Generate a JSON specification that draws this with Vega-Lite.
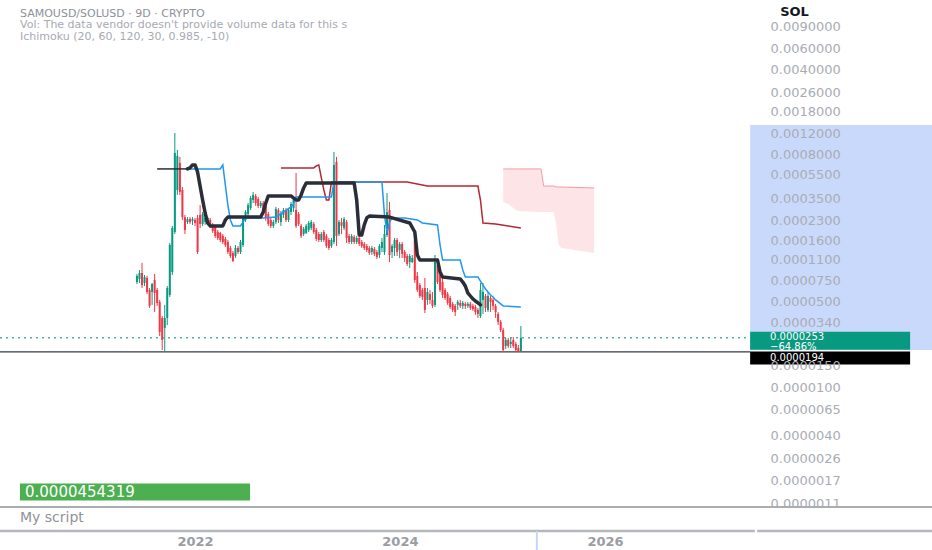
{
  "$schema": "https://vega.github.io/schema/vega-lite/v6.json",
  "width": 932,
  "height": 550,
  "autosize": {"type": "none"},
  "padding": 0,
  "background": "#ffffff",
  "config": {"view": {"stroke": null}, "font": "DejaVu Sans", "axis": {"grid": false, "domain": false, "ticks": false, "tickSize": 0}},
  "title": {
    "text": "SAMOUSD/SOLUSD · 9D · CRYPTO",
    "subtitle": ["Vol: The data vendor doesn't provide volume data for this s", "Ichimoku (20, 60, 120, 30, 0.985, -10)"],
    "anchor": "start", "frame": "group", "orient": "top", "offset": -42, "dx": 20,
    "font": "DejaVu Sans", "fontSize": 11, "fontWeight": "normal", "color": "#8e9199",
    "subtitleFont": "DejaVu Sans", "subtitleFontSize": 11, "subtitleColor": "#a7aab2",
    "subtitlePadding": 0, "lineHeight": 12, "subtitleLineHeight": 12
  },
  "datasets": {
    "candles": [
      {"d":"2021-06-08","o":7.25e-5,"h":8.44e-5,"l":6.98e-5,"c":8.13e-5},
      {"d":"2021-06-17","o":7.68e-5,"h":9.10e-5,"l":7.12e-5,"c":8.60e-5},
      {"d":"2021-06-26","o":8.60e-5,"h":1.039e-4,"l":6.48e-5,"c":6.85e-5},
      {"d":"2021-07-05","o":7.12e-5,"h":8.28e-5,"l":6.73e-5,"c":7.98e-5},
      {"d":"2021-07-14","o":7.83e-5,"h":8.13e-5,"l":5.79e-5,"c":6.01e-5},
      {"d":"2021-07-23","o":6.24e-5,"h":6.48e-5,"l":4.45e-5,"c":4.62e-5},
      {"d":"2021-08-01","o":6.01e-5,"h":7.12e-5,"l":4.71e-5,"c":6.98e-5},
      {"d":"2021-08-10","o":7.53e-5,"h":8.44e-5,"l":4.12e-5,"c":5.90e-5},
      {"d":"2021-08-19","o":6.24e-5,"h":6.48e-5,"l":4.62e-5,"c":4.89e-5},
      {"d":"2021-08-28","o":4.98e-5,"h":5.17e-5,"l":2.62e-5,"c":2.82e-5},
      {"d":"2021-09-06","o":3.68e-5,"h":3.82e-5,"l":2.01e-5,"c":2.43e-5},
      {"d":"2021-09-15","o":3.05e-5,"h":4.71e-5,"l":1.94e-5,"c":3.68e-5},
      {"d":"2021-09-24","o":3.68e-5,"h":6.73e-5,"l":3.22e-5,"c":6.48e-5},
      {"d":"2021-10-03","o":5.68e-5,"h":1.515e-4,"l":5.47e-5,"c":1.459e-4},
      {"d":"2021-10-12","o":8.76e-5,"h":2.09e-4,"l":8.28e-5,"c":2.01e-4},
      {"d":"2021-10-21","o":1.864e-4,"h":1.208e-3,"l":1.796e-4,"c":8.29e-4},
      {"d":"2021-10-30","o":4.12e-4,"h":8.77e-4,"l":3.75e-4,"c":7.83e-4},
      {"d":"2021-11-08","o":6.86e-4,"h":7.69e-4,"l":3.75e-4,"c":3.97e-4},
      {"d":"2021-11-17","o":4.12e-4,"h":4.36e-4,"l":2.34e-4,"c":2.47e-4},
      {"d":"2021-11-26","o":2.47e-4,"h":2.57e-4,"l":1.796e-4,"c":1.936e-4},
      {"d":"2021-12-05","o":2.25e-4,"h":2.47e-4,"l":2.17e-4,"c":2.38e-4},
      {"d":"2021-12-14","o":2.38e-4,"h":2.47e-4,"l":2.17e-4,"c":2.25e-4},
      {"d":"2021-12-23","o":2.30e-4,"h":2.47e-4,"l":2.13e-4,"c":2.38e-4},
      {"d":"2022-01-01","o":2.34e-4,"h":2.43e-4,"l":2.09e-4,"c":2.21e-4},
      {"d":"2022-01-10","o":2.43e-4,"h":2.57e-4,"l":1.231e-4,"c":1.278e-4},
      {"d":"2022-01-19","o":2.57e-4,"h":3.10e-4,"l":2.01e-4,"c":2.17e-4},
      {"d":"2022-01-28","o":2.17e-4,"h":2.72e-4,"l":2.09e-4,"c":2.62e-4},
      {"d":"2022-02-06","o":2.25e-4,"h":2.57e-4,"l":2.13e-4,"c":2.43e-4},
      {"d":"2022-02-15","o":2.43e-4,"h":2.47e-4,"l":2.17e-4,"c":2.25e-4},
      {"d":"2022-02-24","o":2.34e-4,"h":2.43e-4,"l":2.01e-4,"c":2.13e-4},
      {"d":"2022-03-05","o":2.13e-4,"h":2.21e-4,"l":1.830e-4,"c":1.900e-4},
      {"d":"2022-03-14","o":2.05e-4,"h":2.13e-4,"l":1.665e-4,"c":1.729e-4},
      {"d":"2022-03-23","o":1.864e-4,"h":1.936e-4,"l":1.603e-4,"c":1.665e-4},
      {"d":"2022-04-01","o":1.830e-4,"h":1.864e-4,"l":1.544e-4,"c":1.603e-4},
      {"d":"2022-04-10","o":1.729e-4,"h":1.796e-4,"l":1.487e-4,"c":1.544e-4},
      {"d":"2022-04-19","o":1.634e-4,"h":1.697e-4,"l":1.405e-4,"c":1.459e-4},
      {"d":"2022-04-28","o":1.544e-4,"h":1.603e-4,"l":1.231e-4,"c":1.278e-4},
      {"d":"2022-05-07","o":1.379e-4,"h":1.432e-4,"l":1.142e-4,"c":1.185e-4},
      {"d":"2022-05-16","o":1.254e-4,"h":1.302e-4,"l":1.058e-4,"c":1.079e-4},
      {"d":"2022-05-25","o":1.185e-4,"h":1.459e-4,"l":1.142e-4,"c":1.379e-4},
      {"d":"2022-06-03","o":1.379e-4,"h":1.432e-4,"l":1.231e-4,"c":1.278e-4},
      {"d":"2022-06-12","o":1.278e-4,"h":1.603e-4,"l":1.231e-4,"c":1.544e-4},
      {"d":"2022-06-21","o":1.459e-4,"h":2.52e-4,"l":1.405e-4,"c":2.43e-4},
      {"d":"2022-06-30","o":2.34e-4,"h":2.82e-4,"l":2.25e-4,"c":2.72e-4},
      {"d":"2022-07-09","o":2.62e-4,"h":3.22e-4,"l":2.52e-4,"c":3.10e-4},
      {"d":"2022-07-18","o":2.93e-4,"h":3.68e-4,"l":2.82e-4,"c":3.54e-4},
      {"d":"2022-07-27","o":3.41e-4,"h":3.97e-4,"l":3.22e-4,"c":3.75e-4},
      {"d":"2022-08-05","o":3.68e-4,"h":3.82e-4,"l":3.05e-4,"c":3.22e-4},
      {"d":"2022-08-14","o":3.48e-4,"h":3.61e-4,"l":2.93e-4,"c":3.05e-4},
      {"d":"2022-08-23","o":3.05e-4,"h":3.35e-4,"l":2.93e-4,"c":3.22e-4},
      {"d":"2022-09-01","o":3.22e-4,"h":3.35e-4,"l":2.67e-4,"c":2.77e-4},
      {"d":"2022-09-10","o":3.05e-4,"h":3.16e-4,"l":2.30e-4,"c":2.43e-4},
      {"d":"2022-09-19","o":2.62e-4,"h":2.72e-4,"l":2.09e-4,"c":2.17e-4},
      {"d":"2022-09-28","o":2.34e-4,"h":2.43e-4,"l":2.01e-4,"c":2.09e-4},
      {"d":"2022-10-07","o":2.09e-4,"h":2.34e-4,"l":2.01e-4,"c":2.25e-4},
      {"d":"2022-10-16","o":2.25e-4,"h":2.99e-4,"l":2.17e-4,"c":2.88e-4},
      {"d":"2022-10-25","o":2.82e-4,"h":2.93e-4,"l":2.21e-4,"c":2.34e-4},
      {"d":"2022-11-03","o":2.25e-4,"h":2.77e-4,"l":2.09e-4,"c":2.67e-4},
      {"d":"2022-11-12","o":2.57e-4,"h":2.93e-4,"l":2.43e-4,"c":2.82e-4},
      {"d":"2022-11-21","o":2.82e-4,"h":2.93e-4,"l":2.25e-4,"c":2.34e-4},
      {"d":"2022-11-30","o":2.34e-4,"h":2.93e-4,"l":2.25e-4,"c":2.82e-4},
      {"d":"2022-12-09","o":2.72e-4,"h":3.28e-4,"l":2.57e-4,"c":3.16e-4},
      {"d":"2022-12-18","o":2.93e-4,"h":3.61e-4,"l":2.72e-4,"c":3.48e-4},
      {"d":"2022-12-27","o":2.82e-4,"h":5.68e-4,"l":2.01e-4,"c":2.09e-4},
      {"d":"2023-01-05","o":2.62e-4,"h":2.72e-4,"l":2.09e-4,"c":2.17e-4},
      {"d":"2023-01-14","o":2.09e-4,"h":2.17e-4,"l":1.665e-4,"c":1.729e-4},
      {"d":"2023-01-23","o":1.796e-4,"h":2.05e-4,"l":1.729e-4,"c":1.98e-4},
      {"d":"2023-02-01","o":1.830e-4,"h":2.17e-4,"l":1.796e-4,"c":2.09e-4},
      {"d":"2023-02-10","o":1.936e-4,"h":2.30e-4,"l":1.864e-4,"c":2.21e-4},
      {"d":"2023-02-19","o":2.01e-4,"h":2.34e-4,"l":1.936e-4,"c":2.25e-4},
      {"d":"2023-02-28","o":2.17e-4,"h":2.25e-4,"l":1.796e-4,"c":1.864e-4},
      {"d":"2023-03-09","o":1.936e-4,"h":2.01e-4,"l":1.573e-4,"c":1.634e-4},
      {"d":"2023-03-18","o":1.796e-4,"h":1.864e-4,"l":1.544e-4,"c":1.603e-4},
      {"d":"2023-03-27","o":1.603e-4,"h":1.864e-4,"l":1.544e-4,"c":1.796e-4},
      {"d":"2023-04-05","o":1.864e-4,"h":1.936e-4,"l":1.544e-4,"c":1.603e-4},
      {"d":"2023-04-14","o":1.729e-4,"h":1.796e-4,"l":1.379e-4,"c":1.432e-4},
      {"d":"2023-04-23","o":1.603e-4,"h":1.665e-4,"l":1.327e-4,"c":1.379e-4},
      {"d":"2023-05-02","o":1.432e-4,"h":1.665e-4,"l":1.379e-4,"c":1.603e-4},
      {"d":"2023-05-11","o":1.544e-4,"h":8.45e-4,"l":1.487e-4,"c":6.61e-4},
      {"d":"2023-05-20","o":6.99e-4,"h":7.69e-4,"l":1.432e-4,"c":1.729e-4},
      {"d":"2023-05-29","o":1.796e-4,"h":2.34e-4,"l":1.729e-4,"c":2.25e-4},
      {"d":"2023-06-07","o":2.25e-4,"h":2.43e-4,"l":1.796e-4,"c":2.09e-4},
      {"d":"2023-06-16","o":2.01e-4,"h":2.47e-4,"l":1.936e-4,"c":2.38e-4},
      {"d":"2023-06-25","o":2.25e-4,"h":2.34e-4,"l":1.515e-4,"c":1.665e-4},
      {"d":"2023-07-04","o":1.729e-4,"h":1.796e-4,"l":1.487e-4,"c":1.544e-4},
      {"d":"2023-07-13","o":1.544e-4,"h":1.796e-4,"l":1.487e-4,"c":1.729e-4},
      {"d":"2023-07-22","o":1.697e-4,"h":1.762e-4,"l":1.487e-4,"c":1.544e-4},
      {"d":"2023-07-31","o":1.544e-4,"h":1.729e-4,"l":1.487e-4,"c":1.665e-4},
      {"d":"2023-08-09","o":1.665e-4,"h":1.729e-4,"l":1.432e-4,"c":1.487e-4},
      {"d":"2023-08-18","o":1.544e-4,"h":1.603e-4,"l":1.379e-4,"c":1.432e-4},
      {"d":"2023-08-27","o":1.487e-4,"h":1.544e-4,"l":1.327e-4,"c":1.379e-4},
      {"d":"2023-09-05","o":1.432e-4,"h":1.487e-4,"l":1.278e-4,"c":1.327e-4},
      {"d":"2023-09-14","o":1.379e-4,"h":1.432e-4,"l":1.208e-4,"c":1.254e-4},
      {"d":"2023-09-23","o":1.278e-4,"h":1.432e-4,"l":1.208e-4,"c":1.379e-4},
      {"d":"2023-10-02","o":1.353e-4,"h":1.405e-4,"l":1.185e-4,"c":1.231e-4},
      {"d":"2023-10-11","o":1.278e-4,"h":1.327e-4,"l":1.120e-4,"c":1.163e-4},
      {"d":"2023-10-20","o":1.208e-4,"h":1.487e-4,"l":1.142e-4,"c":1.432e-4},
      {"d":"2023-10-29","o":1.379e-4,"h":1.665e-4,"l":1.278e-4,"c":1.544e-4},
      {"d":"2023-11-07","o":1.278e-4,"h":2.13e-4,"l":1.208e-4,"c":1.796e-4},
      {"d":"2023-11-16","o":1.762e-4,"h":3.89e-4,"l":1.697e-4,"c":2.72e-4},
      {"d":"2023-11-25","o":2.82e-4,"h":3.28e-4,"l":1.058e-4,"c":1.208e-4},
      {"d":"2023-12-04","o":1.278e-4,"h":1.487e-4,"l":1.142e-4,"c":1.432e-4},
      {"d":"2023-12-13","o":1.379e-4,"h":1.665e-4,"l":1.185e-4,"c":1.603e-4},
      {"d":"2023-12-22","o":1.603e-4,"h":1.665e-4,"l":1.185e-4,"c":1.278e-4},
      {"d":"2023-12-31","o":1.327e-4,"h":1.544e-4,"l":1.142e-4,"c":1.487e-4},
      {"d":"2024-01-09","o":1.487e-4,"h":1.544e-4,"l":1.142e-4,"c":1.231e-4},
      {"d":"2024-01-18","o":1.278e-4,"h":1.327e-4,"l":1.058e-4,"c":1.142e-4},
      {"d":"2024-01-27","o":1.185e-4,"h":1.231e-4,"l":9.82e-5,"c":1.019e-4},
      {"d":"2024-02-05","o":1.058e-4,"h":1.231e-4,"l":9.45e-5,"c":1.185e-4},
      {"d":"2024-02-14","o":1.058e-4,"h":1.208e-4,"l":1.039e-4,"c":1.142e-4},
      {"d":"2024-02-23","o":1.603e-4,"h":1.762e-4,"l":7.12e-5,"c":7.53e-5},
      {"d":"2024-03-03","o":8.13e-5,"h":8.76e-5,"l":6.01e-5,"c":6.24e-5},
      {"d":"2024-03-12","o":6.85e-5,"h":7.12e-5,"l":5.37e-5,"c":5.57e-5},
      {"d":"2024-03-21","o":6.24e-5,"h":6.48e-5,"l":5.17e-5,"c":5.47e-5},
      {"d":"2024-03-30","o":6.48e-5,"h":7.83e-5,"l":4.04e-5,"c":4.28e-5},
      {"d":"2024-04-08","o":5.17e-5,"h":6.48e-5,"l":4.71e-5,"c":6.01e-5},
      {"d":"2024-04-17","o":5.79e-5,"h":6.24e-5,"l":4.80e-5,"c":5.17e-5},
      {"d":"2024-04-26","o":5.17e-5,"h":6.01e-5,"l":4.45e-5,"c":4.62e-5},
      {"d":"2024-05-05","o":4.71e-5,"h":1.208e-4,"l":4.53e-5,"c":1.058e-4},
      {"d":"2024-05-14","o":1.000e-4,"h":1.039e-4,"l":6.98e-5,"c":7.25e-5},
      {"d":"2024-05-23","o":8.28e-5,"h":8.60e-5,"l":6.01e-5,"c":6.24e-5},
      {"d":"2024-06-01","o":7.25e-5,"h":7.83e-5,"l":5.37e-5,"c":5.68e-5},
      {"d":"2024-06-10","o":6.24e-5,"h":6.48e-5,"l":5.17e-5,"c":5.37e-5},
      {"d":"2024-06-19","o":5.79e-5,"h":6.01e-5,"l":4.71e-5,"c":4.89e-5},
      {"d":"2024-06-28","o":5.37e-5,"h":5.57e-5,"l":4.36e-5,"c":4.53e-5},
      {"d":"2024-07-07","o":4.80e-5,"h":4.98e-5,"l":4.12e-5,"c":4.28e-5},
      {"d":"2024-07-16","o":4.62e-5,"h":4.80e-5,"l":3.82e-5,"c":4.12e-5},
      {"d":"2024-07-25","o":4.71e-5,"h":5.17e-5,"l":4.28e-5,"c":4.98e-5},
      {"d":"2024-08-03","o":4.89e-5,"h":5.17e-5,"l":4.45e-5,"c":4.62e-5},
      {"d":"2024-08-12","o":4.62e-5,"h":5.07e-5,"l":4.36e-5,"c":4.89e-5},
      {"d":"2024-08-21","o":4.80e-5,"h":4.98e-5,"l":4.36e-5,"c":4.62e-5},
      {"d":"2024-08-30","o":4.62e-5,"h":4.98e-5,"l":4.45e-5,"c":4.80e-5},
      {"d":"2024-09-08","o":4.80e-5,"h":4.98e-5,"l":4.28e-5,"c":4.45e-5},
      {"d":"2024-09-17","o":4.62e-5,"h":4.80e-5,"l":4.20e-5,"c":4.36e-5},
      {"d":"2024-09-26","o":4.53e-5,"h":4.71e-5,"l":3.90e-5,"c":4.12e-5},
      {"d":"2024-10-05","o":4.28e-5,"h":4.45e-5,"l":3.68e-5,"c":3.97e-5},
      {"d":"2024-10-14","o":3.82e-5,"h":7.12e-5,"l":3.68e-5,"c":6.24e-5},
      {"d":"2024-10-23","o":5.17e-5,"h":7.12e-5,"l":3.97e-5,"c":6.01e-5},
      {"d":"2024-11-01","o":5.57e-5,"h":5.79e-5,"l":4.12e-5,"c":4.45e-5},
      {"d":"2024-11-10","o":4.28e-5,"h":6.01e-5,"l":4.12e-5,"c":5.57e-5},
      {"d":"2024-11-19","o":5.37e-5,"h":5.57e-5,"l":4.12e-5,"c":4.98e-5},
      {"d":"2024-11-28","o":5.17e-5,"h":5.37e-5,"l":4.28e-5,"c":4.62e-5},
      {"d":"2024-12-07","o":4.62e-5,"h":4.80e-5,"l":3.68e-5,"c":4.12e-5},
      {"d":"2024-12-16","o":3.97e-5,"h":4.12e-5,"l":3.22e-5,"c":3.41e-5},
      {"d":"2024-12-25","o":3.41e-5,"h":3.54e-5,"l":2.82e-5,"c":2.93e-5},
      {"d":"2025-01-03","o":2.93e-5,"h":3.05e-5,"l":1.94e-5,"c":2.01e-5},
      {"d":"2025-01-12","o":2.17e-5,"h":2.52e-5,"l":2.05e-5,"c":2.43e-5},
      {"d":"2025-01-21","o":2.43e-5,"h":2.52e-5,"l":2.09e-5,"c":2.17e-5},
      {"d":"2025-01-30","o":2.25e-5,"h":2.52e-5,"l":2.09e-5,"c":2.34e-5},
      {"d":"2025-02-08","o":2.43e-5,"h":2.57e-5,"l":2.09e-5,"c":2.17e-5},
      {"d":"2025-02-17","o":2.25e-5,"h":2.34e-5,"l":1.94e-5,"c":2.01e-5},
      {"d":"2025-02-26","o":2.09e-5,"h":2.21e-5,"l":1.94e-5,"c":1.94e-5},
      {"d":"2025-03-07","o":1.97e-5,"h":3.16e-5,"l":1.94e-5,"c":2.53e-5}
    ],
    "black": [
      {"d":"2021-12-05","v":6.13e-4},{"d":"2021-12-14","v":6.25e-4},{"d":"2021-12-23","v":6.61e-4},
      {"d":"2022-01-01","v":6.61e-4},{"d":"2022-01-10","v":5.79e-4},{"d":"2022-01-19","v":4.44e-4},
      {"d":"2022-01-28","v":3.41e-4},{"d":"2022-02-06","v":2.67e-4},{"d":"2022-02-15","v":2.21e-4},
      {"d":"2022-02-24","v":2.09e-4},{"d":"2022-04-10","v":2.09e-4},{"d":"2022-04-19","v":2.34e-4},
      {"d":"2022-04-28","v":2.47e-4},{"d":"2022-08-23","v":2.47e-4},{"d":"2022-09-01","v":2.72e-4},
      {"d":"2022-09-10","v":3.22e-4},{"d":"2022-09-19","v":3.68e-4},{"d":"2022-12-09","v":3.68e-4},
      {"d":"2022-12-18","v":3.54e-4},{"d":"2022-12-27","v":3.41e-4},{"d":"2023-01-05","v":3.41e-4},
      {"d":"2023-01-14","v":3.75e-4},{"d":"2023-01-23","v":4.28e-4},{"d":"2023-02-01","v":4.70e-4},
      {"d":"2023-07-22","v":4.70e-4},{"d":"2023-07-31","v":3.41e-4},{"d":"2023-08-09","v":1.762e-4},
      {"d":"2023-08-18","v":1.762e-4},{"d":"2023-08-27","v":2.13e-4},{"d":"2023-09-05","v":2.43e-4},
      {"d":"2023-09-14","v":2.52e-4},{"d":"2023-11-25","v":2.47e-4},{"d":"2024-02-05","v":2.21e-4},
      {"d":"2024-02-23","v":1.864e-4},{"d":"2024-03-03","v":1.208e-4},{"d":"2024-03-12","v":1.099e-4},
      {"d":"2024-05-14","v":1.099e-4},{"d":"2024-05-23","v":8.76e-5},{"d":"2024-06-01","v":7.98e-5},
      {"d":"2024-08-03","v":7.68e-5},{"d":"2024-08-12","v":7.25e-5},{"d":"2024-08-21","v":6.73e-5},
      {"d":"2024-08-30","v":5.90e-5},{"d":"2024-09-08","v":5.57e-5},{"d":"2024-09-17","v":5.27e-5},
      {"d":"2024-09-26","v":5.07e-5},{"d":"2024-10-05","v":4.89e-5},{"d":"2024-10-14","v":4.71e-5}
    ],
    "blackthin": [
      {"d":"2021-08-19","v":6.13e-4},{"d":"2021-12-05","v":6.13e-4}
    ],
    "blue": [
      {"d":"2021-12-05","v":6.13e-4},{"d":"2022-04-01","v":6.13e-4},{"d":"2022-04-10","v":6.61e-4},
      {"d":"2022-04-19","v":4.52e-4},{"d":"2022-04-28","v":3.10e-4},{"d":"2022-05-07","v":2.34e-4},
      {"d":"2022-05-16","v":2.09e-4},{"d":"2022-06-12","v":2.09e-4},{"d":"2022-06-21","v":2.25e-4},
      {"d":"2022-06-30","v":2.43e-4},{"d":"2022-09-01","v":2.43e-4},{"d":"2022-10-16","v":2.47e-4},
      {"d":"2022-12-09","v":2.99e-4},{"d":"2022-12-18","v":3.16e-4},{"d":"2022-12-27","v":3.61e-4},
      {"d":"2023-05-02","v":3.61e-4},{"d":"2023-05-11","v":4.79e-4},{"d":"2023-10-29","v":4.79e-4},
      {"d":"2023-11-07","v":2.57e-4},{"d":"2023-11-16","v":1.830e-4},{"d":"2023-11-25","v":2.25e-4},
      {"d":"2023-12-04","v":2.43e-4},{"d":"2024-01-18","v":2.43e-4},{"d":"2024-03-03","v":2.34e-4},
      {"d":"2024-03-21","v":2.21e-4},{"d":"2024-05-14","v":2.13e-4},{"d":"2024-05-23","v":1.459e-4},
      {"d":"2024-06-01","v":1.099e-4},{"d":"2024-08-03","v":1.099e-4},{"d":"2024-08-12","v":9.10e-5},
      {"d":"2024-08-21","v":7.98e-5},{"d":"2024-10-05","v":7.98e-5},{"d":"2024-10-14","v":7.39e-5},
      {"d":"2024-10-23","v":6.85e-5},{"d":"2024-11-01","v":6.36e-5},{"d":"2024-11-10","v":6.01e-5},
      {"d":"2024-11-19","v":5.68e-5},{"d":"2024-11-28","v":5.47e-5},{"d":"2024-12-07","v":5.17e-5},
      {"d":"2024-12-16","v":4.98e-5},{"d":"2024-12-25","v":4.80e-5},{"d":"2025-01-03","v":4.62e-5},
      {"d":"2025-03-07","v":4.53e-5}
    ],
    "red": [
      {"d":"2022-11-03","v":6.25e-4},{"d":"2023-02-28","v":6.25e-4},{"d":"2023-03-09","v":6.48e-4},
      {"d":"2023-03-18","v":6.61e-4},{"d":"2023-03-27","v":5.17e-4},{"d":"2023-04-05","v":4.12e-4},
      {"d":"2023-04-14","v":3.41e-4},{"d":"2023-04-23","v":3.41e-4},{"d":"2023-05-02","v":4.79e-4},
      {"d":"2024-01-27","v":4.79e-4},{"d":"2024-04-08","v":4.44e-4},{"d":"2024-10-05","v":4.44e-4},
      {"d":"2024-10-14","v":3.41e-4},{"d":"2024-10-23","v":2.21e-4},{"d":"2024-12-07","v":2.17e-4},
      {"d":"2025-03-07","v":2.01e-4}
    ],
    "cloud": [
      {"d":"2025-01-03","t":6.13e-4,"b":3.28e-4},{"d":"2025-01-12","t":6.13e-4,"b":3.22e-4},
      {"d":"2025-01-21","t":6.13e-4,"b":3.16e-4},{"d":"2025-01-30","t":6.13e-4,"b":3.05e-4},
      {"d":"2025-02-17","t":6.13e-4,"b":2.82e-4},{"d":"2025-02-26","t":6.13e-4,"b":2.77e-4},
      {"d":"2025-05-18","t":6.13e-4,"b":2.72e-4},{"d":"2025-05-27","t":4.44e-4,"b":2.72e-4},
      {"d":"2025-07-02","t":4.44e-4,"b":2.72e-4},{"d":"2025-07-11","t":4.36e-4,"b":2.17e-4},
      {"d":"2025-07-20","t":4.36e-4,"b":1.459e-4},{"d":"2025-07-29","t":4.36e-4,"b":1.379e-4},
      {"d":"2025-11-23","t":4.28e-4,"b":1.254e-4}
    ]
  },
  "layer": [
    {
      "data": {"values": [{"d":"2027-06-02","d2":"2029-03-11","v":1.404e-3,"v2":2.01e-5}]},
      "mark": {"type": "rect", "color": "#c9d9fb"},
      "encoding": {
        "x": {"field": "d", "type": "temporal", "title": null,
          "scale": {"type": "utc", "domain": [1580947200000, 1867881600000], "padding": 0},
          "axis": {"values": [1640995200000, 1704067200000, 1767225600000], "format": "%Y", "orient": "bottom",
            "offset": -19, "labelPadding": 10, "tickSize": 0, "ticks": false, "domain": false, "grid": false,
            "labelBaseline": "middle", "labelColor": "#9a9da5", "labelFontSize": 13, "labelFontWeight": "bold",
            "labelFlush": false, "labelOverlap": false, "title": null, "zindex": 1}},
        "x2": {"field": "d2"},
        "y": {"field": "v", "type": "quantitative", "title": null,
          "scale": {"type": "log", "domain": [4.613e-7, 0.01486], "nice": false, "padding": 0},
          "axis": {"values": [0.009, 0.006, 0.004, 0.0026, 0.0018, 0.0012, 0.0008, 0.00055, 0.00035, 0.00023, 0.00016, 0.00011, 0.000075, 0.00005, 0.000034, 0.000015, 0.00001, 0.0000065, 0.000004, 0.0000026, 0.0000017, 0.0000011],
            "format": ".7f", "orient": "right", "offset": -162, "labelPadding": 0, "tickSize": 0, "ticks": false,
            "domain": false, "grid": false, "labelColor": "#a9acb4", "labelFontSize": 13, "labelAlign": "left",
            "labelBaseline": "middle", "labelFlush": false, "labelOverlap": false, "labelBound": false,
            "title": null, "zindex": 1}},
        "y2": {"field": "v2"}
      }
    },
    {
      "data": {"values": [{"d":"2020-02-06","d2":"2029-03-11","v":1.039e-6}]},
      "mark": {"type": "rule", "color": "#8e9096", "strokeWidth": 1.5},
      "encoding": {"x": {"field": "d", "type": "temporal", "title": null}, "x2": {"field": "d2"}, "y": {"field": "v", "type": "quantitative", "title": null}}
    },
    {
      "data": {"values": [{"d":"2020-02-06","d2":"2027-06-19","v":6.60e-7},{"d":"2027-06-27","d2":"2029-03-11","v":6.60e-7}]},
      "mark": {"type": "rule", "color": "#b5b7bd", "strokeWidth": 2.5},
      "encoding": {"x": {"field": "d", "type": "temporal", "title": null}, "x2": {"field": "d2"}, "y": {"field": "v", "type": "quantitative", "title": null}}
    },
    {
      "data": {"values": [{"d":"2025-05-03","v":6.60e-7,"v2":4.613e-7}]},
      "mark": {"type": "rule", "color": "#c4d5f8", "strokeWidth": 2},
      "encoding": {"x": {"field": "d", "type": "temporal", "title": null}, "y": {"field": "v", "type": "quantitative", "title": null}, "y2": {"field": "v2"}}
    },
    {
      "data": {"name": "cloud"},
      "mark": {"type": "area", "color": "#fde5e7"},
      "encoding": {"x": {"field": "d", "type": "temporal", "title": null}, "y": {"field": "t", "type": "quantitative", "title": null}, "y2": {"field": "b"}}
    },
    {
      "data": {"name": "cloud"},
      "mark": {"type": "line", "color": "#f59aa2", "strokeWidth": 1},
      "encoding": {"x": {"field": "d", "type": "temporal", "title": null}, "y": {"field": "t", "type": "quantitative", "title": null}}
    },
    {
      "data": {"values": [{"d":"2020-02-06","d2":"2027-06-02","v":2.53e-5}]},
      "mark": {"type": "rule", "color": "#4fb3a3", "strokeWidth": 1.5, "strokeDash": [2, 4]},
      "encoding": {"x": {"field": "d", "type": "temporal", "title": null}, "x2": {"field": "d2"}, "y": {"field": "v", "type": "quantitative", "title": null}}
    },
    {
      "data": {"values": [{"d":"2020-02-06","d2":"2027-06-02","v":1.94e-5}]},
      "mark": {"type": "rule", "color": "#363a45", "strokeWidth": 1.3},
      "encoding": {"x": {"field": "d", "type": "temporal", "title": null}, "x2": {"field": "d2"}, "y": {"field": "v", "type": "quantitative", "title": null}}
    },
    {
      "data": {"name": "candles"},
      "mark": {"type": "rule", "strokeWidth": 1},
      "encoding": {
        "x": {"field": "d", "type": "temporal", "title": null},
        "y": {"field": "l", "type": "quantitative", "title": null},
        "y2": {"field": "h"},
        "color": {"condition": {"test": "datum.c >= datum.o", "value": "#089981"}, "value": "#f23645"}
      }
    },
    {
      "data": {"name": "candles"},
      "mark": {"type": "bar", "size": 2},
      "encoding": {
        "x": {"field": "d", "type": "temporal", "title": null},
        "y": {"field": "o", "type": "quantitative", "title": null},
        "y2": {"field": "c"},
        "color": {"condition": {"test": "datum.c >= datum.o", "value": "#089981"}, "value": "#f23645"}
      }
    },
    {
      "data": {"name": "red"},
      "mark": {"type": "line", "color": "#b22833", "strokeWidth": 1.5},
      "encoding": {"x": {"field": "d", "type": "temporal", "title": null}, "y": {"field": "v", "type": "quantitative", "title": null}}
    },
    {
      "data": {"name": "blue"},
      "mark": {"type": "line", "color": "#2196f3", "strokeWidth": 1.5},
      "encoding": {"x": {"field": "d", "type": "temporal", "title": null}, "y": {"field": "v", "type": "quantitative", "title": null}}
    },
    {
      "data": {"name": "blackthin"},
      "mark": {"type": "line", "color": "#2a2e39", "strokeWidth": 1.5},
      "encoding": {"x": {"field": "d", "type": "temporal", "title": null}, "y": {"field": "v", "type": "quantitative", "title": null}}
    },
    {
      "data": {"name": "black"},
      "mark": {"type": "line", "color": "#2a2e39", "strokeWidth": 3.5, "strokeJoin": "round", "strokeCap": "round"},
      "encoding": {"x": {"field": "d", "type": "temporal", "title": null}, "y": {"field": "v", "type": "quantitative", "title": null}}
    },
    {
      "data": {"values": [{"d":"2027-06-02","d2":"2028-12-23","dt":"2027-08-12","v":2.53e-5,"t1":"0.0000253","t2":"−64.86%"}]},
      "layer": [
        {"mark": {"type": "bar", "size": 18, "yOffset": 3, "color": "#089981"},
         "encoding": {"x": {"field": "d", "type": "temporal", "title": null}, "x2": {"field": "d2"}, "y": {"field": "v", "type": "quantitative", "title": null}}},
        {"mark": {"type": "text", "align": "left", "baseline": "middle", "dy": -1, "color": "#ffffff", "fontSize": 10},
         "encoding": {"x": {"field": "dt", "type": "temporal", "title": null}, "y": {"field": "v", "type": "quantitative", "title": null}, "text": {"field": "t1"}}},
        {"mark": {"type": "text", "align": "left", "baseline": "middle", "dy": 9, "color": "#ffffff", "fontSize": 10},
         "encoding": {"x": {"field": "dt", "type": "temporal", "title": null}, "y": {"field": "v", "type": "quantitative", "title": null}, "text": {"field": "t2"}}}
      ]
    },
    {
      "data": {"values": [{"d":"2027-06-02","d2":"2028-12-23","dt":"2027-08-12","v":1.94e-5,"t1":"0.0000194"}]},
      "layer": [
        {"mark": {"type": "bar", "size": 13, "yOffset": 6, "color": "#000000"},
         "encoding": {"x": {"field": "d", "type": "temporal", "title": null}, "x2": {"field": "d2"}, "y": {"field": "v", "type": "quantitative", "title": null}}},
        {"mark": {"type": "text", "align": "left", "baseline": "middle", "dy": 6, "color": "#ffffff", "fontSize": 10},
         "encoding": {"x": {"field": "dt", "type": "temporal", "title": null}, "y": {"field": "v", "type": "quantitative", "title": null}, "text": {"field": "t1"}}}
      ]
    },
    {
      "data": {"values": [{"d":"2020-04-17","d2":"2022-07-16","dt":"2020-05-05","v":1.378e-6,"t1":"0.0000454319"}]},
      "layer": [
        {"mark": {"type": "bar", "size": 17, "color": "#4caf50"},
         "encoding": {"x": {"field": "d", "type": "temporal", "title": null}, "x2": {"field": "d2"}, "y": {"field": "v", "type": "quantitative", "title": null}}},
        {"mark": {"type": "text", "align": "left", "baseline": "middle", "color": "#ffffff", "fontSize": 15},
         "encoding": {"x": {"field": "dt", "type": "temporal", "title": null}, "y": {"field": "v", "type": "quantitative", "title": null}, "text": {"field": "t1"}}}
      ]
    },
    {
      "data": {"values": [{"d":"2027-06-27","d2":"2029-02-04","dt":"2027-09-17","v":0.01174,"t1":"SOL"}]},
      "layer": [
        {"mark": {"type": "bar", "size": 19, "color": "#ffffff", "stroke": "#e0e3eb", "strokeWidth": 1, "cornerRadius": 5},
         "encoding": {"x": {"field": "d", "type": "temporal", "title": null}, "x2": {"field": "d2"}, "y": {"field": "v", "type": "quantitative", "title": null}}},
        {"mark": {"type": "text", "align": "left", "baseline": "middle", "color": "#131722", "fontSize": 13, "fontWeight": "bold"},
         "encoding": {"x": {"field": "dt", "type": "temporal", "title": null}, "y": {"field": "v", "type": "quantitative", "title": null}, "text": {"field": "t1"}}}
      ]
    },
    {
      "data": {"values": [{"d":"2020-04-17","v":8.44e-7,"t1":"My script"}]},
      "mark": {"type": "text", "align": "left", "baseline": "middle", "color": "#8f929a", "fontSize": 14},
      "encoding": {"x": {"field": "d", "type": "temporal", "title": null}, "y": {"field": "v", "type": "quantitative", "title": null}, "text": {"field": "t1"}}
    }
  ]
}
